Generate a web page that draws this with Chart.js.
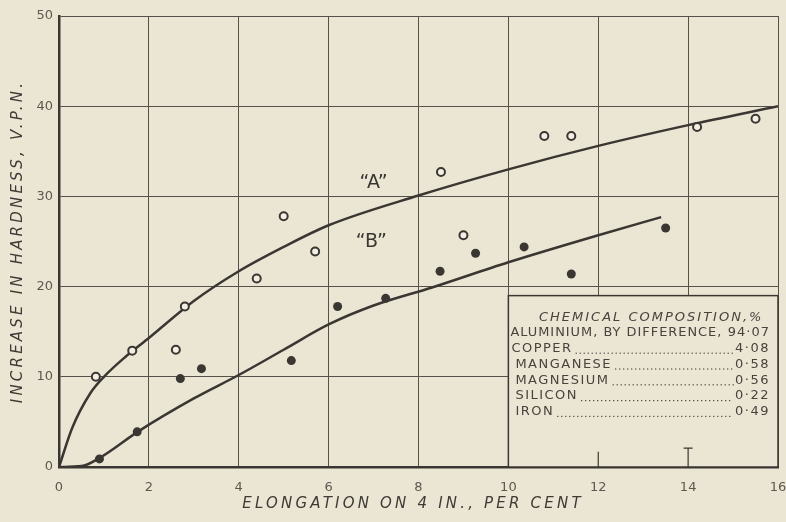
<!DOCTYPE html>
<html lang="en">
<head>
  <meta charset="UTF-8">
  <title>Increase in hardness vs elongation</title>
  <script src="https://cdn.jsdelivr.net/npm/chart.js"></script>
  <style>
    html, body { margin: 0; padding: 0; background: #ebe6d4; }
    #wrap { width: 786px; height: 522px; }
  </style>
</head>
<body>
<div id="wrap"><canvas id="chart" width="786" height="522"></canvas></div>

<script>
    // measured points, curve "A" (open circles)
    const elongA = [0.82, 1.63, 2.6, 2.8, 4.4, 5.0, 5.7, 8.5, 9.0, 10.8, 11.4, 14.2, 15.5];
    const hardA  = [10, 12.9, 13, 17.8, 20.9, 27.8, 23.9, 32.7, 25.7, 36.7, 36.7, 37.7, 38.6];

    // measured points, curve "B" (filled circles)
    const elongB = [0.9, 1.74, 2.7, 3.17, 5.17, 6.2, 7.27, 8.48, 9.27, 10.35, 11.4, 13.5];
    const hardB  = [0.9, 3.9, 9.8, 10.9, 11.8, 17.8, 18.7, 21.7, 23.7, 24.4, 21.4, 26.5];

    // drawn curves
    const curveAx = [0, 0.3, 0.7, 1, 1.5, 2, 3, 4, 5, 6, 8, 10, 12, 14, 16];
    const curveAy = [0, 4.4, 8.2, 10, 12.3, 14.3, 18.4, 21.7, 24.4, 26.8, 30.1, 33, 35.6, 37.9, 40];
    const curveBx = [0, 0.5, 0.9, 1.75, 3, 4, 5, 6, 7, 8.3, 10, 12, 13.4];
    const curveBy = [0, 0.1, 1.0, 3.9, 7.6, 10.2, 13, 15.8, 17.9, 19.9, 22.7, 25.7, 27.7];

    const xTicks = [0, 2, 4, 6, 8, 10, 12, 14, 16];
    const yTicks = [0, 10, 20, 30, 40, 50];

    const elements = ['COPPER', 'MANGANESE', 'MAGNESIUM', 'SILICON', 'IRON'];
    const percent  = ['4·08', '0·58', '0·56', '0·22', '0·49'];

    const ink = '#3a3632';
    const paper = '#ebe6d4';

    const pts = (xs, ys) => xs.map((x, i) => ({x: x, y: ys[i]}));

    // axis titles, drawn by hand so they can be spaced out like the lettering
    const titles = {
        id: 'titles',
        afterDraw(chart) {
            const {ctx, chartArea: a} = chart;
            ctx.save();
            ctx.fillStyle = '#3e3a35';
            ctx.font = 'italic 15px "DejaVu Sans"';
            ctx.letterSpacing = '3.2px';
            ctx.textAlign = 'center';
            ctx.textBaseline = 'middle';
            ctx.fillText('ELONGATION ON 4 IN., PER CENT', 413, 504);
            ctx.translate(18, (a.top + a.bottom) / 2);
            ctx.rotate(-Math.PI / 2);
            ctx.fillText('INCREASE IN HARDNESS, V.P.N.', 0, 0);
            ctx.restore();
            ctx.letterSpacing = '0px';
        }
    };

    // composition table in the lower right corner
    const table = {
        id: 'table',
        beforeDatasetsDraw(chart) {
            const {ctx, scales: {x, y}} = chart;
            const l = x.getPixelForValue(10), r = x.getPixelForValue(16);
            const t = y.getPixelForValue(19), b = y.getPixelForValue(0);
            ctx.save();
            ctx.fillStyle = paper;
            ctx.fillRect(l, t, r - l, b - t);
            ctx.strokeStyle = ink;
            ctx.lineWidth = 1.5;
            ctx.strokeRect(l, t, r - l, b - t);

            // little marks left at 12 and 14
            ctx.lineWidth = 1.2;
            ctx.beginPath();
            ctx.moveTo(x.getPixelForValue(12), b);
            ctx.lineTo(x.getPixelForValue(12), y.getPixelForValue(1.7));
            ctx.moveTo(x.getPixelForValue(14), b);
            ctx.lineTo(x.getPixelForValue(14), y.getPixelForValue(2.1));
            ctx.moveTo(x.getPixelForValue(13.9), y.getPixelForValue(2.1));
            ctx.lineTo(x.getPixelForValue(14.1), y.getPixelForValue(2.1));
            ctx.stroke();

            ctx.fillStyle = '#48433d';
            ctx.textBaseline = 'middle';
            ctx.textAlign = 'center';
            ctx.letterSpacing = '2px';
            ctx.font = 'italic 13px "DejaVu Sans"';
            ctx.fillText('CHEMICAL COMPOSITION,%', (l + r) / 2 + 8, t + 22);

            ctx.font = '13px "DejaVu Sans"';
            ctx.letterSpacing = '1px';
            ctx.textAlign = 'left';
            ctx.fillText('ALUMINIUM, BY DIFFERENCE,', l + 2, t + 37, 212);
            ctx.textAlign = 'right';
            ctx.fillText('94·07', r - 8, t + 37);

            ctx.letterSpacing = '1.5px';
            elements.forEach((name, i) => {
                const yy = t + 53 + i * 15.8;
                const xx = l + (i === 0 ? 3 : 7);
                ctx.textAlign = 'left';
                ctx.fillText(name, xx, yy);
                const w = ctx.measureText(name).width;
                ctx.textAlign = 'right';
                ctx.fillText(percent[i], r - 8, yy);
                const vw = ctx.measureText(percent[i]).width;
                // dotted leader
                let d = xx + w + 3;
                while (d < r - 10 - vw) {
                    ctx.fillRect(d, yy + 4, 1.2, 1.2);
                    d += 4;
                }
            });
            ctx.restore();
        },
        afterDatasetsDraw(chart) {
            const {ctx, scales: {x, y}} = chart;
            ctx.save();
            ctx.fillStyle = ink;
            ctx.letterSpacing = '0px';
            ctx.font = '19px "DejaVu Sans"';
            ctx.textAlign = 'center';
            ctx.textBaseline = 'middle';
            ctx.fillText('\u201CA\u201D', x.getPixelForValue(7.0), y.getPixelForValue(31.5));
            ctx.fillText('\u201CB\u201D', x.getPixelForValue(6.95), y.getPixelForValue(24.9));
            ctx.restore();
        }
    };

    new Chart(document.getElementById('chart'), {
        type: 'scatter',
        data: {
            datasets: [
                {
                    label: 'A points',
                    data: pts(elongA, hardA),
                    pointRadius: 4,
                    pointBorderWidth: 2,
                    borderColor: ink,
                    backgroundColor: '#f3efe2'
                },
                {
                    label: 'B points',
                    data: pts(elongB, hardB),
                    pointRadius: 4.5,
                    pointBorderWidth: 0,
                    borderColor: ink,
                    backgroundColor: ink
                },
                {
                    label: 'A',
                    data: pts(curveAx, curveAy),
                    showLine: true,
                    pointRadius: 0,
                    borderColor: ink,
                    borderWidth: 2.5,
                    cubicInterpolationMode: 'monotone'
                },
                {
                    label: 'B',
                    data: pts(curveBx, curveBy),
                    showLine: true,
                    pointRadius: 0,
                    borderColor: ink,
                    borderWidth: 2.5,
                    cubicInterpolationMode: 'monotone'
                }
            ]
        },
        options: {
            responsive: false,
            animation: false,
            events: [],
            layout: { padding: { top: 16, right: 8, left: 0, bottom: 0 } },
            plugins: {
                legend: { display: false },
                tooltip: { enabled: false }
            },
            scales: {
                x: {
                    min: 0, max: 16,
                    afterBuildTicks: s => { s.ticks = xTicks.map(v => ({value: v})); },
                    afterFit: s => { s.height = 55; s.paddingLeft = 0; s.paddingRight = 0; },
                    grid: { color: '#55504a', lineWidth: 1, drawTicks: false },
                    border: { color: ink, width: 2.5 },
                    ticks: { color: '#5d5850', font: { family: 'DejaVu Sans', size: 13 }, padding: 13, maxRotation: 0 }
                },
                y: {
                    min: 0, max: 50,
                    afterBuildTicks: s => { s.ticks = yTicks.map(v => ({value: v})); },
                    afterFit: s => { s.width = 59; s.paddingTop = 0; s.paddingBottom = 0; },
                    grid: { color: '#55504a', lineWidth: 1, drawTicks: false },
                    border: { color: ink, width: 2.5 },
                    ticks: { color: '#5d5850', font: { family: 'DejaVu Sans', size: 13 }, padding: 6 }
                }
            }
        },
        plugins: [titles, table]
    });
</script>
</body>
</html>
